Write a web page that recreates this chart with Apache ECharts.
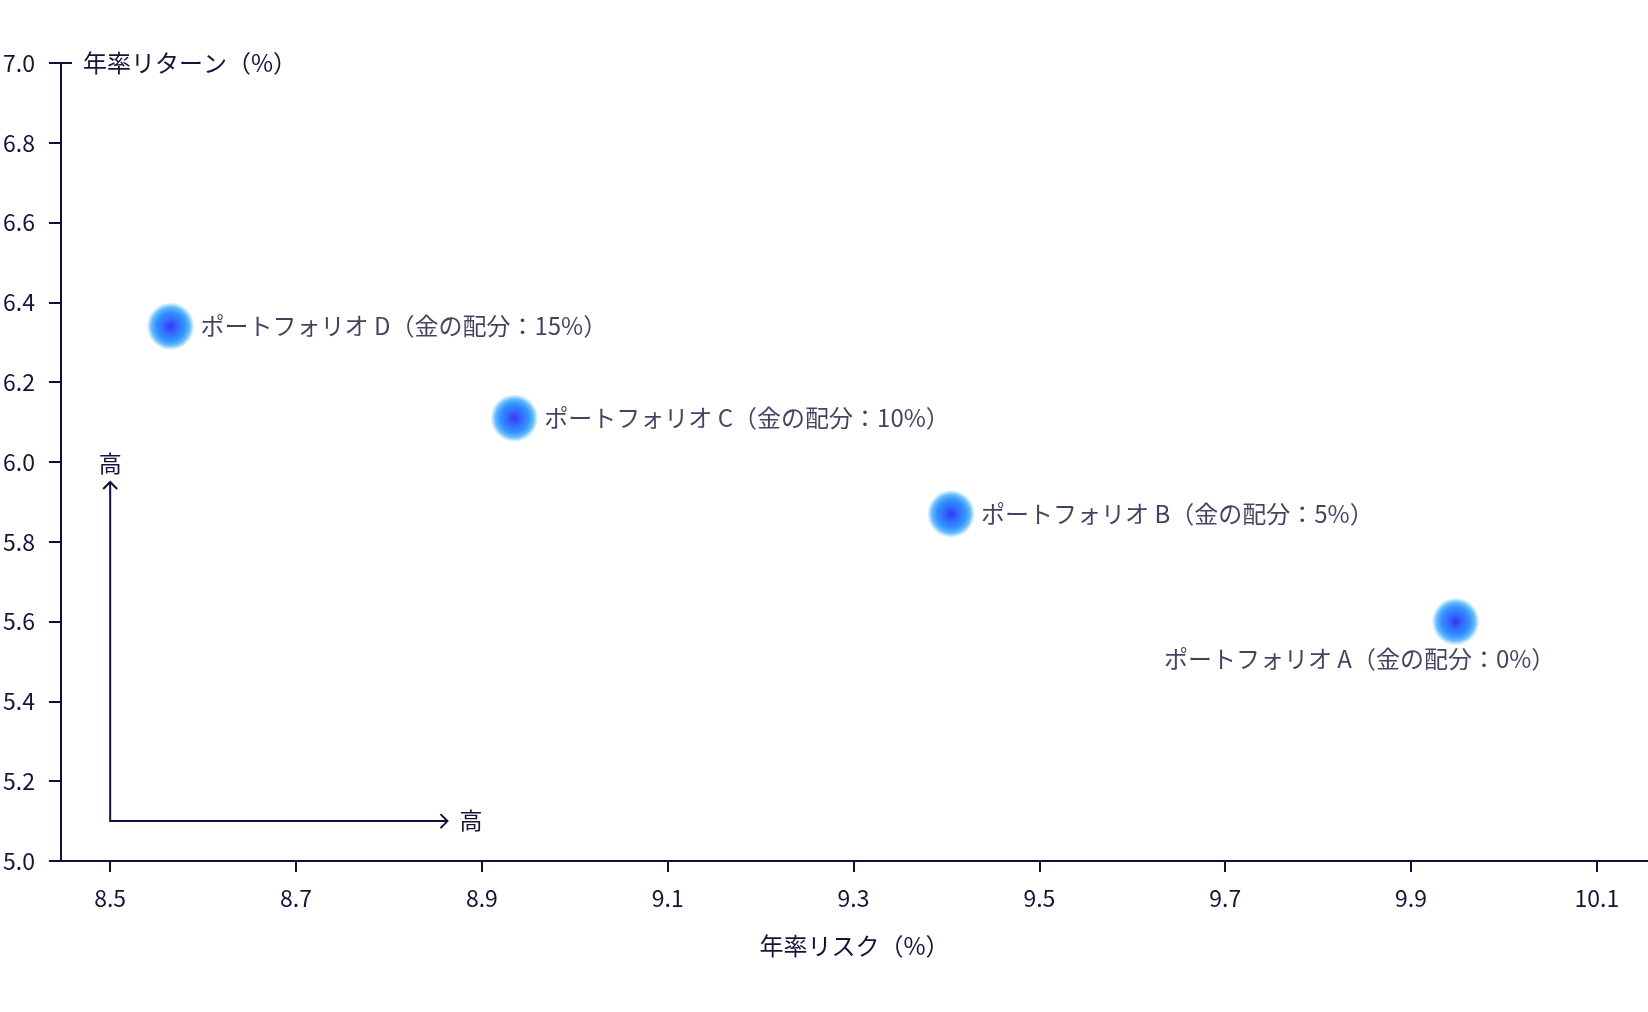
<!DOCTYPE html>
<html>
<head>
<meta charset="utf-8">
<script src="https://cdn.jsdelivr.net/npm/echarts@6/dist/echarts.min.js"></script>
<style>
html,body{margin:0;padding:0;background:#fff;}
#chart{width:1648px;height:1012px;}
</style>
</head>
<body>
<div id="chart"></div>
<script>
// ---- data ----
const portfolioNames = ['ポートフォリオ A（金の配分：0%）', 'ポートフォリオ B（金の配分：5%）', 'ポートフォリオ C（金の配分：10%）', 'ポートフォリオ D（金の配分：15%）'];
const riskValues = [9.948, 9.405, 8.935, 8.565];
const returnValues = [5.60, 5.87, 6.11, 6.34];
const xTickValues = [8.5, 8.7, 8.9, 9.1, 9.3, 9.5, 9.7, 9.9, 10.1];
const yTickValues = [5.0, 5.2, 5.4, 5.6, 5.8, 6.0, 6.2, 6.4, 6.6, 6.8, 7.0];
const xRange = [8.447, 10.155];
const yRange = [5.0, 7.0];
const xAxisTitle = '年率リスク（%）';
const yAxisTitle = '年率リターン（%）';
// guide arrows: origin (x, y), end of horizontal arrow x, end of vertical arrow y
const arrowGuide = [8.5, 5.1, 8.863, 5.95];
const arrowLabel = '高';

const FONT = '"Noto Sans CJK JP", "Noto Sans", sans-serif';
const INK = '#10103a';
const TXT = '#141438';

const chart = echarts.init(document.getElementById('chart'), null, {renderer: 'canvas'});

const points = riskValues.map((x, i) => ({
  value: [x, returnValues[i]],
  name: portfolioNames[i],
  label: i === 0
    ? {position: 'bottom', distance: 1, offset: [-96, 0]}
    : {position: 'right', distance: 6}
}));

const option = {
  backgroundColor: '#ffffff',
  animation: false,
  grid: {left: 59, right: 0, top: 63, bottom: 151},
  xAxis: {
    type: 'value',
    min: xRange[0], max: xRange[1],
    name: xAxisTitle,
    nameLocation: 'middle',
    nameGap: 73,
    nameTextStyle: {fontFamily: FONT, fontSize: 24, color: TXT},
    axisLine: {show: true, lineStyle: {color: INK, width: 2}},
    axisTick: {show: true, length: 11, lineStyle: {color: INK, width: 2}, customValues: xTickValues},
    axisLabel: {margin: 26, fontFamily: FONT, fontSize: 23, color: TXT, customValues: xTickValues,
      formatter: v => Number(v).toFixed(1)},
    splitLine: {show: false}
  },
  yAxis: [{
    type: 'value',
    min: yRange[0], max: yRange[1],
    name: yAxisTitle,
    nameLocation: 'end',
    nameGap: 0,
    nameTextStyle: {fontFamily: FONT, fontSize: 24, color: TXT, align: 'left', verticalAlign: 'middle', padding: [0, 0, 0, 22]},
    axisLine: {show: true, lineStyle: {color: INK, width: 2}},
    axisTick: {show: true, length: 12, lineStyle: {color: INK, width: 2}, customValues: yTickValues},
    axisLabel: {margin: 26, fontFamily: FONT, fontSize: 23, color: TXT, customValues: yTickValues,
      formatter: v => Number(v).toFixed(1)},
    splitLine: {show: false}
  }, {
    type: 'value',
    position: 'left',
    offset: 0,
    min: yRange[0], max: yRange[1],
    axisLine: {show: false},
    axisTick: {show: true, inside: true, length: 11, lineStyle: {color: INK, width: 2}, customValues: [yRange[1]]},
    axisLabel: {show: false},
    splitLine: {show: false}
  }],
  series: [{
    type: 'custom',
    silent: true,
    coordinateSystem: 'cartesian2d',
    encode: {x: [0, 2], y: [1, 3]},
    data: [arrowGuide],
    renderItem: function (params, api) {
      const o = api.coord([api.value(0), api.value(1)]);
      const r = api.coord([api.value(2), api.value(1)]);
      const t = api.coord([api.value(0), api.value(3)]);
      const a = 7;
      const ls = {stroke: INK, lineWidth: 2, fill: null};
      return {
        type: 'group',
        children: [
          {type: 'polyline', shape: {points: [t, o, r]}, style: ls},
          {type: 'polyline', shape: {points: [[t[0] - a, t[1] + a], t, [t[0] + a, t[1] + a]]}, style: ls},
          {type: 'polyline', shape: {points: [[r[0] - a, r[1] - a], r, [r[0] - a, r[1] + a]]}, style: ls},
          {type: 'text', style: {text: arrowLabel, x: t[0], y: t[1] - 7, align: 'center', verticalAlign: 'bottom',
            fill: TXT, font: '23px ' + FONT}},
          {type: 'text', style: {text: arrowLabel, x: r[0] + 12, y: r[1] - 1, align: 'left', verticalAlign: 'middle',
            fill: TXT, font: '23px ' + FONT}}
        ]
      };
    }
  }, {
    type: 'scatter',
    symbol: 'circle',
    symbolSize: 48,
    itemStyle: {
      color: {
        type: 'radial', x: 0.5, y: 0.5, r: 0.5,
        colorStops: [
          {offset: 0, color: '#0008ee'},
          {offset: 0.28, color: '#0040ff'},
          {offset: 0.6, color: '#0078ff'},
          {offset: 0.8, color: 'rgba(0,140,255,0.75)'},
          {offset: 1, color: 'rgba(0,170,255,0)'}
        ]
      }
    },
    label: {
      show: true,
      formatter: p => p.name,
      fontFamily: FONT, fontSize: 24, color: TXT
    },
    data: points
  }]
};
chart.setOption(option);
</script>
</body>
</html>
